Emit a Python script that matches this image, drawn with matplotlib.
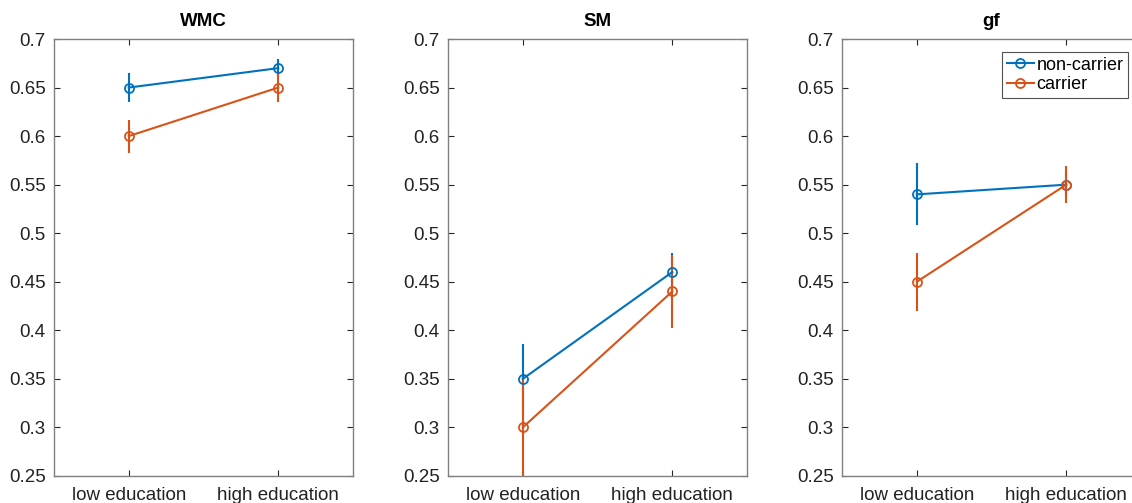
import matplotlib.pyplot as plt
from matplotlib.lines import Line2D
import numpy as np

plt.rcParams['font.family'] = ['Liberation Sans', 'DejaVu Sans']

# Data
groups = ['low education', 'high education']
panels = ['WMC', 'SM', 'gf']
series = ['non-carrier', 'carrier']

noncarrier_mean = {'WMC': [0.65, 0.67], 'SM': [0.35, 0.46], 'gf': [0.54, 0.55]}
noncarrier_err = {'WMC': [0.015, 0.009], 'SM': [0.036, 0.020], 'gf': [0.032, 0.013]}
carrier_mean = {'WMC': [0.60, 0.65], 'SM': [0.30, 0.44], 'gf': [0.45, 0.55]}
carrier_err = {'WMC': [0.017, 0.015], 'SM': [0.052, 0.038], 'gf': [0.030, 0.019]}

colors = ['#0072BD', '#D95319']
axis_col = '#262626'

W, H = 1132, 503
fig = plt.figure(figsize=(W / 100, H / 100), dpi=100)

x = np.arange(1, len(groups) + 1)
lefts = [54, 448, 842]
for i, name in enumerate(panels):
    ax = fig.add_axes([lefts[i] / W, (H - 476) / H, 299 / W, 437 / H])
    for j, (m, e) in enumerate([(noncarrier_mean, noncarrier_err), (carrier_mean, carrier_err)]):
        ax.errorbar(x, m[name], yerr=e[name], color=colors[j], marker='o', ms=6.5,
                    mfc='none', mew=1.3, lw=1.5, elinewidth=1.5, capsize=0)
    ax.set_xlim(0.5, 2.5)
    ax.set_ylim(0.25, 0.7)
    ax.set_xticks(x)
    ax.set_xticklabels(groups)
    ax.set_yticks(np.arange(0.25, 0.701, 0.05))
    ax.set_yticklabels(['0.25', '0.3', '0.35', '0.4', '0.45', '0.5', '0.55', '0.6', '0.65', '0.7'])
    ax.tick_params(direction='in', top=True, right=True, length=4, width=0.8,
                   colors=axis_col, labelsize=13.5, labelcolor='#222222')
    ax.tick_params(axis='x', pad=8)
    ax.tick_params(axis='y', pad=6)
    for s in ax.spines.values():
        s.set_color('#808080')
        s.set_linewidth(1.0)
    ax.set_title(name, fontsize=13.5, fontweight='bold', pad=9)
    if name == 'gf':
        handles = [Line2D([], [], color=colors[k], marker='o', ms=6.5, mfc='none', mew=1.3, lw=1.5)
                   for k in range(len(series))]
        leg = ax.legend(handles, series, loc='upper left', bbox_to_anchor=(160 / 299, 0.97),
                        fontsize=13, frameon=True, fancybox=False, handlelength=1.5,
                        handletextpad=0.15, borderpad=0.25, labelspacing=0.15, borderaxespad=0)
        leg.get_frame().set_edgecolor('#262626')
        leg.get_frame().set_linewidth(0.8)

fig.savefig('out.png', dpi=100)
